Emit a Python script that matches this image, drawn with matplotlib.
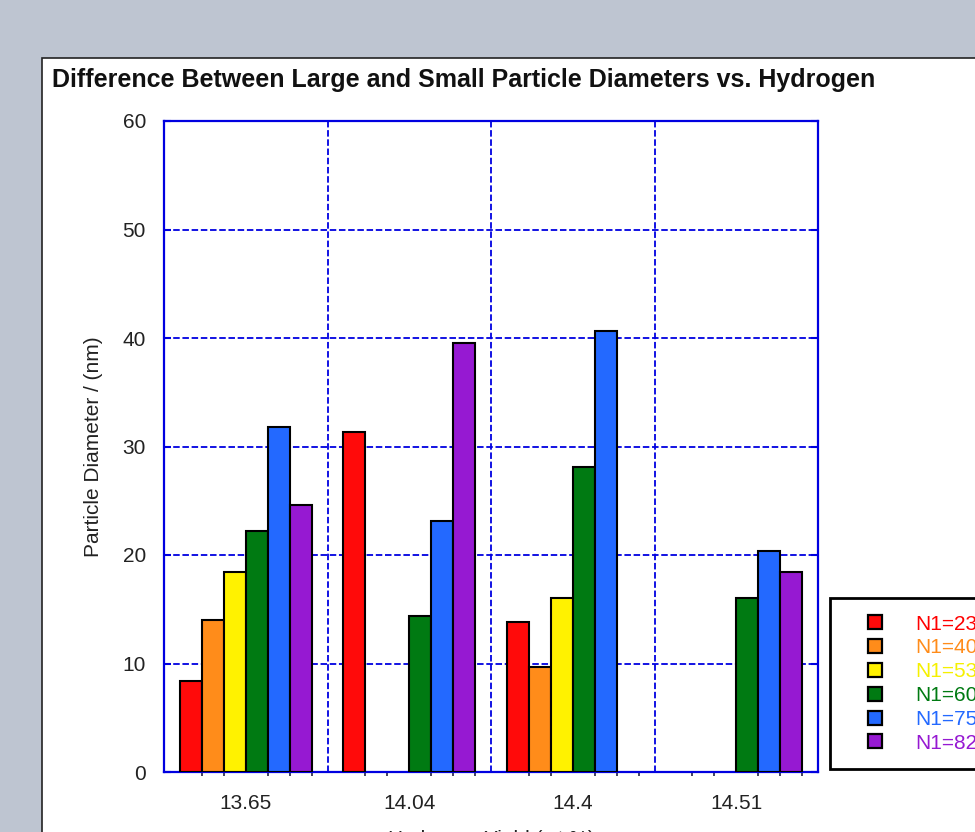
import matplotlib
matplotlib.use("Agg")
import matplotlib.pyplot as plt
from matplotlib.patches import Rectangle
from matplotlib.lines import Line2D
import numpy as np

plt.rcParams['font.family'] = ['Liberation Sans', 'DejaVu Sans']

# data
hydrogen = ["13.65", "14.04", "14.4", "14.51"]
series = ["N1=23", "N1=40", "N1=53", "N1=60", "N1=75", "N1=82"]
n1_23 = [8.4, 31.3, 13.8, 0]
n1_40 = [14.0, 0, 9.7, 0]
n1_53 = [18.4, 0, 16.0, 0]
n1_60 = [22.2, 14.4, 28.1, 16.0]
n1_75 = [31.8, 23.1, 40.6, 20.4]
n1_82 = [24.6, 39.5, 0, 18.4]

bar_colors = ["#ff0a0a", "#ff8c1a", "#fff200", "#007a12", "#2369ff", "#9619d2"]
text_colors = ["#ff0000", "#ff8c1a", "#f5f000", "#007a12", "#2369ff", "#9619d2"]
axis_blue = "#0000e0"

values = [n1_23, n1_40, n1_53, n1_60, n1_75, n1_82]

fig = plt.figure(figsize=(9.75, 8.32), dpi=100)
fig.patch.set_facecolor("#bec5d1")

# white panel with dark border, running past right/bottom edges
panel = Rectangle((42 / 975, -0.05), 1.0, 1 - 58 / 832 + 0.05,
                  transform=fig.transFigure, facecolor="white",
                  edgecolor="#222222", linewidth=1.2, zorder=-1)
fig.patches.append(panel)

fig.text(52 / 975, 1 - 80 / 832, "Difference Between Large and Small Particle Diameters vs. Hydrogen",
         fontsize=18, fontweight="bold", ha="left", va="center", color="#111111")

ax = fig.add_axes([164 / 975, 1 - 772 / 832, 654 / 975, 651 / 832])
ax.set_zorder(1)
ax.set_facecolor("white")

x = np.arange(len(hydrogen))
width = 0.1346
offsets = (np.arange(len(series)) - (len(series) - 1) / 2) * width
for vals, off, col in zip(values, offsets, bar_colors):
    v = np.array(vals, dtype=float)
    mask = v > 0
    ax.bar(x[mask] + off, v[mask], width=width, color=col,
           edgecolor="black", linewidth=1.5, zorder=3)

ax.set_xlim(-0.5, len(hydrogen) - 0.5)
ax.set_ylim(0, 60)
ax.set_yticks(np.arange(0, 61, 10))
ax.set_xticks(x)
ax.set_xticklabels(hydrogen, fontsize=15, color="#222222")
ax.tick_params(axis="y", labelsize=15, labelcolor="#222222", direction="in",
               length=5, width=1.5, color=axis_blue, left=True, right=True, pad=13)
ax.tick_params(axis="x", which="major", length=0, pad=16)

# small ticks at the right edge of every bar slot
edges = []
for c in x:
    for k in range(1, len(series) + 1):
        edges.append(c + offsets[0] - width / 2 + k * width)
ax.set_xticks(edges, minor=True)
ax.tick_params(axis="x", which="minor", length=3, width=1.2, color="#222244",
               direction="out")

# grid: category boundaries and y levels
dash = (0, (3.6, 1.5))
for b in np.arange(0.5, len(hydrogen) - 0.5):
    ax.axvline(b, color=axis_blue, linewidth=1.3, linestyle=dash, zorder=1)
ax.yaxis.grid(True, color=axis_blue, linewidth=1.3, linestyle=dash, zorder=1)
ax.set_axisbelow(True)

for s in ax.spines.values():
    s.set_color(axis_blue)
    s.set_linewidth(1.6)

ax.set_ylabel("Particle Diameter / (nm)", fontsize=15, labelpad=14, color="#222222")
# the axis title runs off the bottom of the panel, as in the reference
ax.set_xlabel("Hydrogen Yield (wt %)", fontsize=15, labelpad=12, color="#222222")

handles = [Line2D([], [], linestyle="none", marker="s", markersize=10.5,
                  markerfacecolor=c, markeredgecolor="black", markeredgewidth=1.6)
           for c in bar_colors]
leg = fig.legend(handles, series, loc="upper left",
                 bbox_to_anchor=(830 / 975, 1 - 598 / 832),
                 frameon=True, fancybox=False, fontsize=15,
                 handlelength=2.73, handletextpad=0.55,
                 labelspacing=0.23, borderpad=0.8, borderaxespad=0,
                 edgecolor="black", framealpha=1)
leg.get_frame().set_linewidth(2)
for t, c in zip(leg.get_texts(), text_colors):
    t.set_color(c)

fig.savefig("out.png", dpi=100, facecolor=fig.get_facecolor())
